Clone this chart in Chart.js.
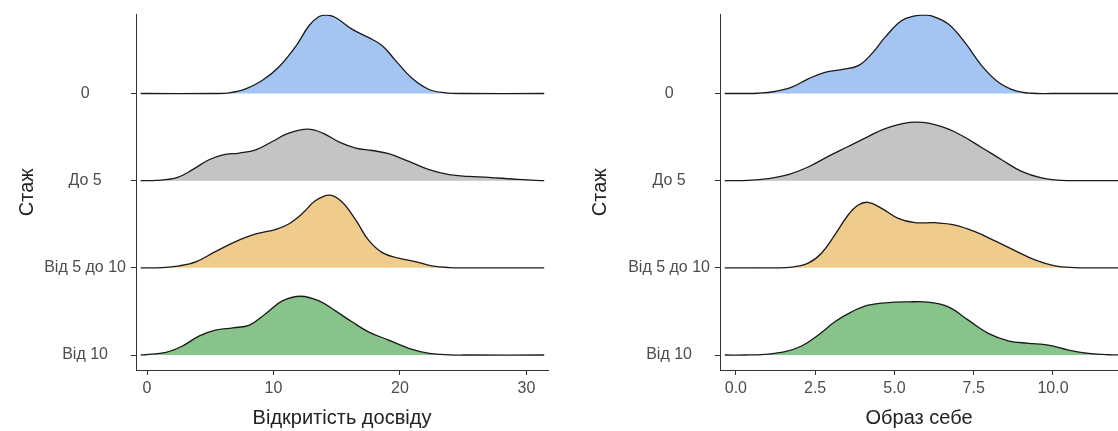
<!DOCTYPE html>
<html>
<head>
<meta charset="utf-8">
<script src="https://cdn.jsdelivr.net/npm/chart.js@4"></script>
<style>
  html, body { margin: 0; padding: 0; background: #fff; }
  #wrap { position: relative; width: 1118px; height: 431px; }
  #leftChart { position: absolute; left: 0; top: 0; }
  #rightChart { position: absolute; left: 560px; top: 0; }
</style>
</head>
<body>
<div id="wrap">
  <canvas id="leftChart" width="560" height="431"></canvas>
  <canvas id="rightChart" width="558" height="431"></canvas>
</div>
<script>
// ridge groups, bottom to top
const categories = ['Від 10', 'Від 5 до 10', 'До 5', '0'];
const fillColors = ['#87C38A', '#EFCB8C', '#C4C4C4', '#A4C4F1'];

// Відкритість досвіду: [x, ridge height in row units]
const openness10 = [[-0.5, 0], [-0.1, 0.003], [1.5, 0.031], [2.8, 0.103], [4.1, 0.217], [5.4, 0.286], [6.8, 0.312], [8.1, 0.343], [9.4, 0.477], [10.7, 0.621], [12.15, 0.674], [13.6, 0.621], [14.9, 0.506], [16.2, 0.381], [17.5, 0.266], [19.1, 0.171], [20.7, 0.077], [22.3, 0.019], [23.9, 0.002], [25.5, 0], [31.4, 0]];
const openness5to10 = [[-0.5, 0], [1.2, 0.003], [2.55, 0.023], [3.9, 0.072], [5.4, 0.186], [7.0, 0.301], [8.6, 0.389], [10.2, 0.442], [11.2, 0.503], [12.3, 0.625], [13.3, 0.769], [14.44, 0.834], [15.4, 0.758], [16.5, 0.549], [17.5, 0.32], [18.6, 0.175], [19.9, 0.111], [21.2, 0.072], [22.5, 0.023], [23.9, 0.003], [25.5, 0], [31.4, 0]];
const opennessUpTo5 = [[-0.5, 0.001], [0.7, 0.003], [2.3, 0.031], [3.6, 0.126], [4.9, 0.24], [6.0, 0.297], [7.3, 0.317], [8.6, 0.354], [9.9, 0.449], [11.2, 0.545], [12.7, 0.591], [13.9, 0.545], [15.2, 0.442], [16.5, 0.374], [17.8, 0.346], [19.1, 0.309], [20.7, 0.221], [22.3, 0.126], [23.9, 0.069], [25.4, 0.049], [27.0, 0.038], [28.9, 0.019], [30.7, 0.003], [31.4, 0.001]];
const openness0 = [[-0.5, 0], [5.5, 0], [6.5, 0.008], [7.8, 0.054], [9.1, 0.149], [10.4, 0.301], [11.8, 0.549], [12.8, 0.777], [13.6, 0.883], [14.26, 0.899], [14.9, 0.872], [16.2, 0.739], [17.5, 0.643], [18.6, 0.549], [19.65, 0.377], [21.0, 0.168], [22.3, 0.046], [23.6, 0.008], [25.0, 0], [31.4, 0]];
const opennessTicks = [0, 10, 20, 30];

// Образ себе
const self10 = [[-0.35, 0], [0.3, 0], [0.91, 0.008], [1.55, 0.038], [2.07, 0.103], [2.6, 0.229], [3.12, 0.381], [3.65, 0.495], [4.17, 0.571], [4.8, 0.602], [5.43, 0.609], [6.07, 0.606], [6.7, 0.552], [7.33, 0.4], [7.96, 0.248], [8.59, 0.163], [9.22, 0.134], [9.85, 0.114], [10.49, 0.057], [11.12, 0.019], [11.75, 0.003], [12.3, 0]];
const self5to10 = [[-0.35, 0], [1.2, 0], [1.76, 0.008], [2.28, 0.054], [2.7, 0.168], [3.12, 0.377], [3.54, 0.606], [3.86, 0.72], [4.17, 0.751], [4.6, 0.682], [5.12, 0.568], [5.65, 0.518], [6.28, 0.518], [6.91, 0.491], [7.54, 0.415], [8.17, 0.309], [8.8, 0.198], [9.43, 0.091], [10.06, 0.023], [10.69, 0.003], [11.3, 0], [12.3, 0]];
const selfUpTo5 = [[-0.35, 0], [0.39, 0.003], [1.02, 0.023], [1.65, 0.069], [2.28, 0.157], [2.91, 0.278], [3.54, 0.392], [4.17, 0.506], [4.8, 0.609], [5.65, 0.671], [6.49, 0.621], [7.12, 0.518], [7.75, 0.381], [8.38, 0.24], [9.01, 0.106], [9.64, 0.031], [10.27, 0.003], [11.0, 0], [12.3, 0]];
const self0 = [[-0.35, 0], [0.2, 0], [0.7, 0.003], [1.23, 0.023], [1.76, 0.072], [2.28, 0.168], [2.81, 0.243], [3.33, 0.274], [3.86, 0.32], [4.28, 0.454], [4.7, 0.643], [5.22, 0.834], [5.65, 0.891], [5.91, 0.899], [6.17, 0.891], [6.7, 0.797], [7.22, 0.586], [7.75, 0.32], [8.28, 0.129], [8.8, 0.034], [9.33, 0.003], [10.0, 0], [12.3, 0]];
const selfTicks = [0, 2.5, 5, 7.5, 10];

const FONT = '"Liberation Sans", Arial, sans-serif';

function ridgeChart(id, groups, o) {
  const datasets = groups.map((pts, i) => ({
    label: categories[i],
    data: pts.map(p => ({ x: p[0], y: i + p[1] })),
    borderColor: '#1a1a1a',
    borderWidth: 1.3,
    backgroundColor: fillColors[i],
    fill: { value: i },
    pointRadius: 0,
    tension: 0.4
  }));

  new Chart(document.getElementById(id), {
    type: 'line',
    data: { datasets: datasets },
    options: {
      responsive: false,
      animation: false,
      layout: { padding: { top: 14, right: o.padRight, left: 0, bottom: 0 } },
      plugins: { legend: { display: false }, tooltip: { enabled: false } },
      scales: {
        x: {
          type: 'linear',
          min: o.xMin,
          max: o.xMax,
          afterBuildTicks: s => { s.ticks = o.xTicks.map(v => ({ value: v })); },
          afterFit: s => { s.height = 61; },
          ticks: {
            color: '#4d4d4d', font: { size: 16, family: FONT }, padding: 4,
            maxRotation: 0, autoSkip: false, callback: o.xFormat
          },
          grid: { display: true, drawOnChartArea: false, drawTicks: true, tickLength: 5, color: '#333' },
          border: { display: true, color: '#333', width: 1 },
          title: { display: true, text: o.xTitle, color: '#222', font: { size: 20, family: FONT }, padding: { top: 0, bottom: 1 } }
        },
        y: {
          type: 'linear',
          min: -0.172,
          max: 3.905,
          afterBuildTicks: s => { s.ticks = categories.map((c, i) => ({ value: i })); },
          afterFit: s => { s.width = o.yWidth; },
          ticks: {
            color: '#4d4d4d', font: { size: 16, family: FONT }, padding: 5,
            crossAlign: 'center', autoSkip: false,
            callback: v => categories[v]
          },
          grid: { display: true, drawOnChartArea: false, drawTicks: true, tickLength: 5, color: '#333' },
          border: { display: true, color: '#333', width: 1 },
          title: { display: true, text: 'Стаж', color: '#222', font: { size: 20, family: FONT }, padding: { top: o.yTitlePad, bottom: 0 } }
        }
      }
    }
  });
}

ridgeChart('leftChart', [openness10, openness5to10, opennessUpTo5, openness0], {
  xMin: -0.87, xMax: 31.7, xTicks: opennessTicks, xFormat: v => String(v),
  xTitle: 'Відкритість досвіду', yWidth: 136, yTitlePad: 15, padRight: 12
});

ridgeChart('rightChart', [self10, self5to10, selfUpTo5, self0], {
  xMin: -0.5, xMax: 12.05, xTicks: selfTicks, xFormat: v => Number(v).toFixed(1),
  xTitle: 'Образ себе', yWidth: 160, yTitlePad: 28, padRight: 0
});
</script>
</body>
</html>
